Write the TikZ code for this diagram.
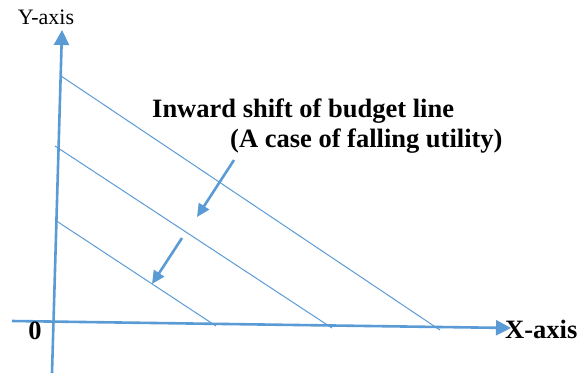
\documentclass[tikz,border=0pt]{standalone}
\usepackage{fontspec}
\setmainfont{Liberation Serif}
\usetikzlibrary{arrows.meta}
\definecolor{axblue}{HTML}{5B9BD5}
\tikzset{
  axisline/.style={draw=axblue, line width=2.6pt, -{Triangle[length=15pt,width=15pt]}},
  budget/.style={draw=axblue, line width=1pt},
  shiftarrow/.style={draw=axblue, line width=2.6pt, -{Triangle[length=13pt,width=12pt]}},
  lbl/.style={inner sep=0pt, text=black},
  boldtxt/.style={lbl, font=\fontsize{26.5}{30}\selectfont\bfseries}
}
\begin{document}
\begin{tikzpicture}[x=1pt,y=-1pt]
\useasboundingbox (0,0) rectangle (585,375);
% axes
\coordinate (ybot) at (52,373);
\coordinate (ytop) at (62,30);
\coordinate (xl) at (12,321);
\coordinate (xr) at (511,328);
\draw[axisline] (ybot) -- (ytop);
\draw[axisline] (xl) -- (xr);
% budget lines
\coordinate (b1a) at (61,76);
\coordinate (b1b) at (440,330);
\coordinate (b2a) at (55,146);
\coordinate (b2b) at (332,328);
\coordinate (b3a) at (55,220);
\coordinate (b3b) at (216,326);
\draw[budget] (b1a) -- (b1b);
\draw[budget] (b2a) -- (b2b);
\draw[budget] (b3a) -- (b3b);
% shift arrows
\coordinate (s1a) at (234,160);
\coordinate (s1b) at (197,217);
\coordinate (s2a) at (182,238);
\coordinate (s2b) at (152,284);
\draw[shiftarrow] (s1a) -- (s1b);
\draw[shiftarrow] (s2a) -- (s2b);
% labels
\node[lbl, font=\fontsize{22}{26}\selectfont] (ylab) at (46,17) {Y-axis};
\node[boldtxt, anchor=west] (xlab) at (505,329) {X-axis};
\node[boldtxt] (zero) at (35,331) {0};
\node[boldtxt, anchor=base west] (t1) at (152,117) {Inward shift of budget line};
\node[boldtxt, anchor=base west] (t2) at (230,147) {(A case of falling utility)};
\end{tikzpicture}
\end{document}
